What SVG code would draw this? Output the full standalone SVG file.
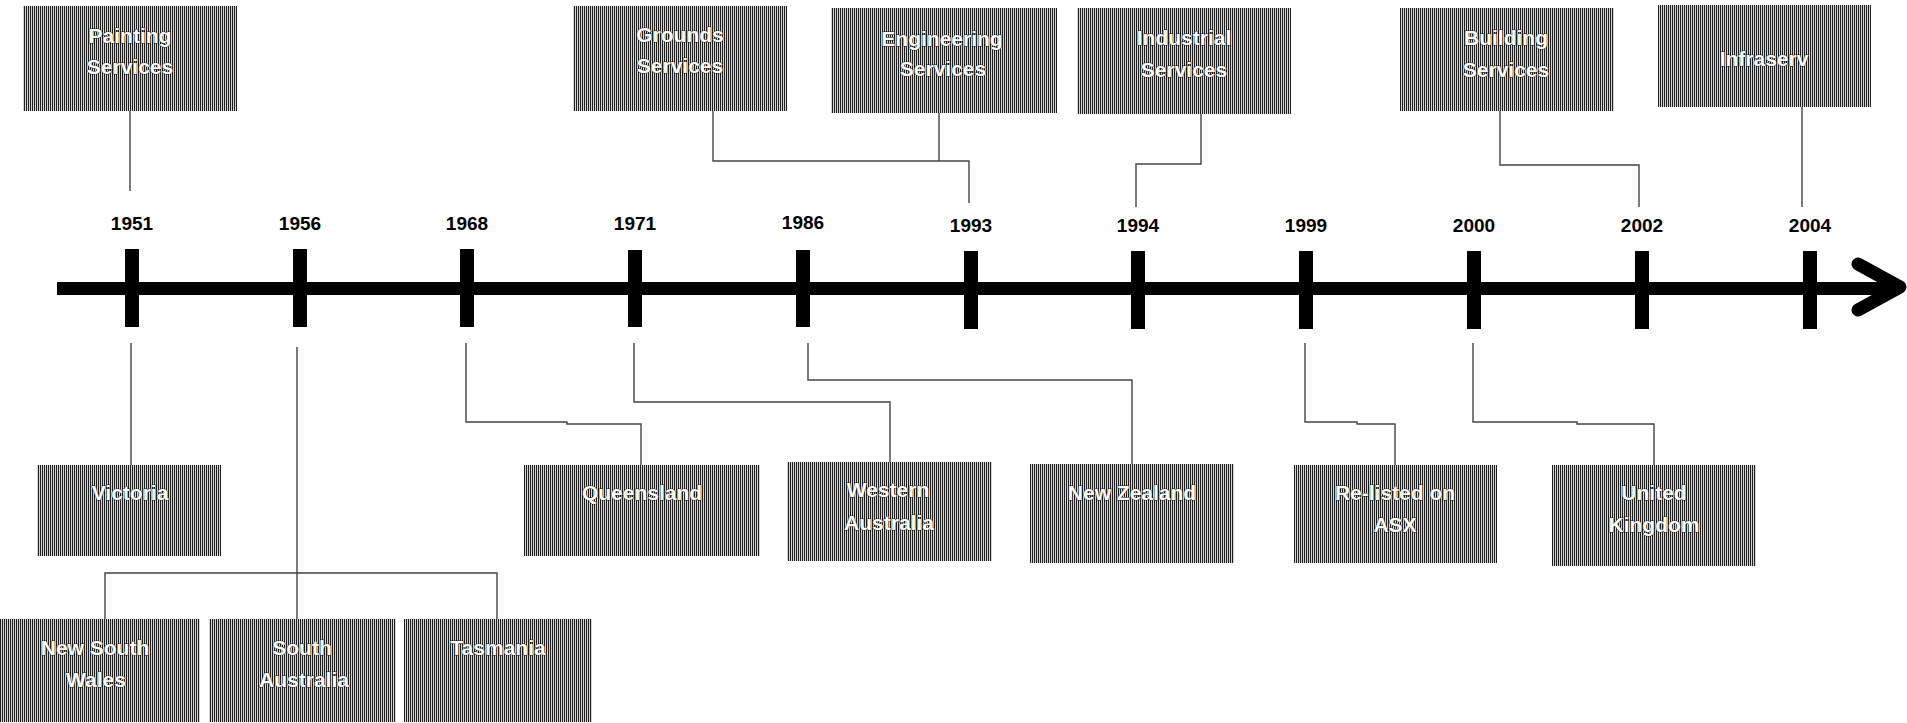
<svg xmlns="http://www.w3.org/2000/svg" width="1907" height="723" viewBox="0 0 1907 723">
<style>
.box{fill:url(#stripes);}
.bt{font-family:"Liberation Sans",Arial,sans-serif;font-weight:bold;font-size:21px;fill:#fff;text-anchor:middle;stroke:#222;stroke-width:0.8;paint-order:stroke;}
.yr{font-family:"Liberation Sans",Arial,sans-serif;font-weight:bold;font-size:19px;fill:#000;text-anchor:middle;}
.c{fill:none;stroke:#444;stroke-width:1.4;}
.tick{fill:#000;}
</style>
<defs>
<pattern id="stripes" patternUnits="userSpaceOnUse" width="2" height="4">
<rect width="2" height="4" fill="#d4d4d4"/>
<rect width="1" height="4" fill="#1e1e1e"/>
</pattern>
</defs>
<g id="timeline">
<line x1="57" y1="288.5" x2="1898" y2="288.5" stroke="#000" stroke-width="13"/>
<path d="M1858,264 L1900,287 L1858,310" fill="none" stroke="#000" stroke-width="13" stroke-linecap="round" stroke-linejoin="round"/>
<rect class="tick" x="125" y="249" width="14" height="78"/>
<rect class="tick" x="293" y="249" width="14" height="78"/>
<rect class="tick" x="460" y="249" width="14" height="78"/>
<rect class="tick" x="628" y="250" width="14" height="77"/>
<rect class="tick" x="796" y="250" width="14" height="77"/>
<rect class="tick" x="964" y="251" width="14" height="78"/>
<rect class="tick" x="1131" y="251" width="14" height="78"/>
<rect class="tick" x="1299" y="251" width="14" height="78"/>
<rect class="tick" x="1467" y="251" width="14" height="78"/>
<rect class="tick" x="1635" y="251" width="14" height="78"/>
<rect class="tick" x="1803" y="251" width="14" height="78"/>
<text class="yr" x="132" y="230">1951</text>
<text class="yr" x="300" y="230">1956</text>
<text class="yr" x="467" y="230">1968</text>
<text class="yr" x="635" y="230">1971</text>
<text class="yr" x="803" y="229">1986</text>
<text class="yr" x="971" y="232">1993</text>
<text class="yr" x="1138" y="232">1994</text>
<text class="yr" x="1306" y="232">1999</text>
<text class="yr" x="1474" y="232">2000</text>
<text class="yr" x="1642" y="232">2002</text>
<text class="yr" x="1810" y="232">2004</text>
</g>
<g id="connectors">
<path class="c" d="M130,111 V191"/>
<path class="c" d="M713,111 V161 H969 V203"/>
<path class="c" d="M939,113 V161"/>
<path class="c" d="M1201,114 V164 H1136 V207"/>
<path class="c" d="M1500,111 V165 H1639 V207"/>
<path class="c" d="M1802,107 V207"/>
<path class="c" d="M131,343 V465"/>
<path class="c" d="M297,347 V619"/>
<path class="c" d="M105,619 V573 H497 V619"/>
<path class="c" d="M466,343 V422 H567 V424 H641 V465"/>
<path class="c" d="M634,343 V402 H890 V462"/>
<path class="c" d="M808,343 V380 H1132 V464"/>
<path class="c" d="M1305,343 V422 H1357 V424 H1395 V465"/>
<path class="c" d="M1473,343 V422 H1577 V424 H1654 V465"/>
</g>
<g id="painting"><rect class="box" x="23" y="6" width="214" height="105"/><text class="bt" x="130" y="43">Painting</text><text class="bt" x="130" y="74">Services</text></g>
<g id="grounds"><rect class="box" x="573" y="6" width="214" height="105"/><text class="bt" x="680" y="42">Grounds</text><text class="bt" x="680" y="73">Services</text></g>
<g id="engineering"><rect class="box" x="831" y="8" width="226" height="105"/><text class="bt" x="942" y="46">Engineering</text><text class="bt" x="943" y="76">Services</text></g>
<g id="industrial"><rect class="box" x="1077" y="8" width="214" height="106"/><text class="bt" x="1184" y="45">Industrial</text><text class="bt" x="1184" y="77">Services</text></g>
<g id="building"><rect class="box" x="1400" y="8" width="214" height="103"/><text class="bt" x="1506" y="45">Building</text><text class="bt" x="1506" y="77">Services</text></g>
<g id="infraserv"><rect class="box" x="1658" y="5" width="213" height="102"/><text class="bt" x="1764" y="66">Infraserv</text></g>
<g id="victoria"><rect class="box" x="37" y="465" width="184" height="91"/><text class="bt" x="130" y="500">Victoria</text></g>
<g id="queensland"><rect class="box" x="524" y="465" width="236" height="91"/><text class="bt" x="642" y="500">Queensland</text></g>
<g id="western-australia"><rect class="box" x="787" y="462" width="205" height="99"/><text class="bt" x="888" y="497">Western</text><text class="bt" x="889" y="530">Australia</text></g>
<g id="new-zealand"><rect class="box" x="1030" y="464" width="204" height="99"/><text class="bt" x="1132" y="500">New Zealand</text></g>
<g id="relisted"><rect class="box" x="1294" y="465" width="203" height="98"/><text class="bt" x="1395" y="500">Re-listed on</text><text class="bt" x="1395" y="532">ASX</text></g>
<g id="uk"><rect class="box" x="1552" y="465" width="204" height="101"/><text class="bt" x="1654" y="500">United</text><text class="bt" x="1654" y="532">Kingdom</text></g>
<g id="nsw"><rect class="box" x="0" y="619" width="200" height="103"/><text class="bt" x="95" y="655">New South</text><text class="bt" x="96" y="687">Wales</text></g>
<g id="south-australia"><rect class="box" x="209" y="619" width="187" height="103"/><text class="bt" x="302" y="655">South</text><text class="bt" x="304" y="687">Australia</text></g>
<g id="tasmania"><rect class="box" x="404" y="619" width="188" height="103"/><text class="bt" x="498" y="655">Tasmania</text></g>
</svg>
